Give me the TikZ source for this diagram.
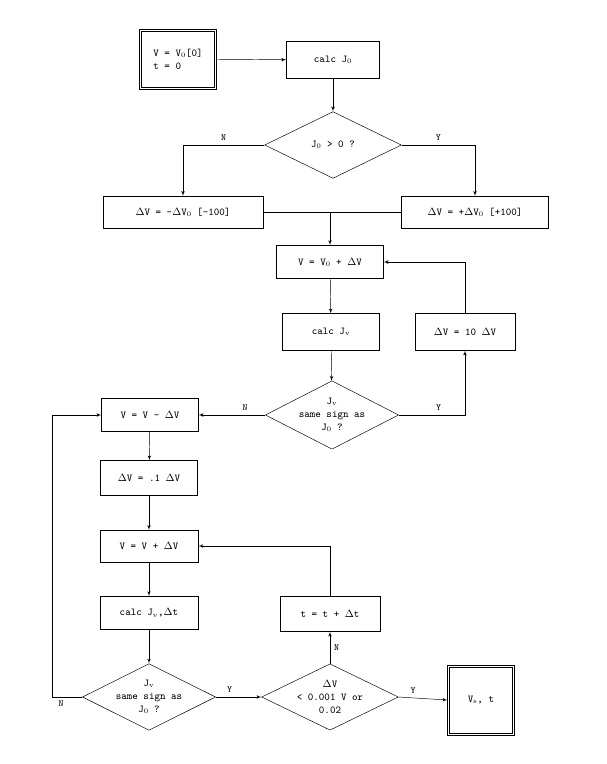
\documentclass[tikz,border=0pt]{standalone}
\usepackage{tikz}
\usetikzlibrary{arrows,calc,positioning,shapes.geometric}
\tikzset{every picture/.style={
  >=latex'                      % LaTeX style arrows.
  }
}

\begin{document}
\begin{tikzpicture}[
    x=0.03cm, y=-0.03cm,
    font=\ttfamily\small,
    box/.style={
      draw,
      minimum height=1.1cm,
      text centered
    },
    dbox/.style={
      draw,
      semithick,
      text centered
    },
    test/.style={
      draw,
      diamond,
      aspect=2,
      inner sep=0pt,
      text centered,
      align=center
    },
    lab/.style={font=\ttfamily\footnotesize}]

    \useasboundingbox (0,0) rectangle (606,764);

    % Helper macro: inner frame of a double box.
    \def\frm#1{ \draw ([shift={(2pt,-2pt)}] #1.north west) rectangle
      ([shift={(-2pt,2pt)}] #1.south east) }

    % Start and the first test.
    \node[dbox,minimum width=2.3cm,minimum height=1.8cm,align=left] (init) at (178,59)
      {V = V$_0$[0]\\t = 0};
    \frm{init};
    \node[box,minimum width=2.8cm] (calc0) at (333,60) {calc J$_0$};
    \node[test,minimum width=4.1cm,minimum height=2cm] (sign0) at (333,145) {J$_0$ > 0 ?};
    \node[box,minimum width=4.8cm,minimum height=0.95cm] (dneg) at (183,212)
      {$\Delta$V = -$\Delta$V$_0$ [-100]};
    \node[box,minimum width=4.4cm,minimum height=0.95cm] (dpos) at (475,212)
      {$\Delta$V = +$\Delta$V$_0$ [+100]};

    % Coarse search loop.
    \node[box,minimum width=3.2cm,minimum height=1cm] (vinit) at (330,262)
      {V = V$_0$ + $\Delta$V};
    \node[box,minimum width=2.9cm] (calcv) at (331,332) {calc J$_{\mathrm v}$};
    \node[box,minimum width=3cm] (grow) at (465,332) {$\Delta$V = 10 $\Delta$V};
    \node[test,minimum width=4cm,minimum height=2.05cm] (sign1) at (332,415)
      {J$_{\mathrm v}$\\same sign as\\J$_0$ ?};

    % Fine search loop.
    \node[box,minimum width=2.9cm,minimum height=1cm] (back) at (150,415) {V = V - $\Delta$V};
    \node[box,minimum width=2.9cm,minimum height=1.05cm] (shrink) at (149,478) {$\Delta$V = .1 $\Delta$V};
    \node[box,minimum width=2.95cm,minimum height=0.95cm] (step1) at (149,546) {V = V + $\Delta$V};
    \node[box,minimum width=2.95cm,minimum height=1cm] (calct) at (149,613) {calc J$_{\mathrm v}$,$\Delta$t};
    \node[test,minimum width=3.9cm,minimum height=1.95cm] (sign2) at (149,697)
      {J$_{\mathrm v}$\\same sign as\\J$_0$ ?};
    \node[test,minimum width=4.1cm,minimum height=1.95cm] (conv) at (330,697)
      {$\Delta$V\\< 0.001 V or\\0.02};
    \node[box,minimum width=3cm,minimum height=1.05cm] (tick) at (330,614) {t = t + $\Delta$t};
    \node[dbox,minimum width=2cm,minimum height=2.1cm] (done) at (481,700) {V$_{\mathrm s}$, t};
    \frm{done};

    % Connectors.
    \draw[->] (init) -- (calc0);
    \draw[->] (calc0) -- (sign0);
    \draw[->] (sign0.west) -| node[lab,pos=0.25,above] {N} (dneg.north);
    \draw[->] (sign0.east) -| node[lab,pos=0.25,above] {Y} (dpos.north);
    \draw (dneg) -- (dpos);
    \draw[->] (dneg.east -| vinit.north) -- (vinit.north);
    \draw[->] (vinit) -- (calcv);
    \draw[->] (calcv) -- (sign1);
    \draw[->] (sign1.east) -| node[lab,pos=0.3,above] {Y} (grow.south);
    \draw[->] (grow.north) |- (vinit.east);
    \draw[->] (sign1.west) -- node[lab,above,pos=0.3] {N} (back.east);
    \draw[->] (back) -- (shrink);
    \draw[->] (shrink) -- (step1);
    \draw[->] (step1) -- (calct);
    \draw[->] (calct) -- (sign2);
    \draw[->] (sign2.east) -- node[lab,above,pos=0.3] {Y} (conv.west);
    \draw[->] (conv.east) -- node[lab,above,pos=0.3] {Y} (done.west);
    \draw[->] (conv.north) -- node[lab,right] {N} (tick.south);
    \draw[->] (tick.north) |- (step1.east);
    \coordinate (loop) at (52,697);
    \draw[->] (sign2.west) -- node[lab,below,pos=0.7] {N} (loop) |- (back.west);
  \end{tikzpicture}
\end{document}
